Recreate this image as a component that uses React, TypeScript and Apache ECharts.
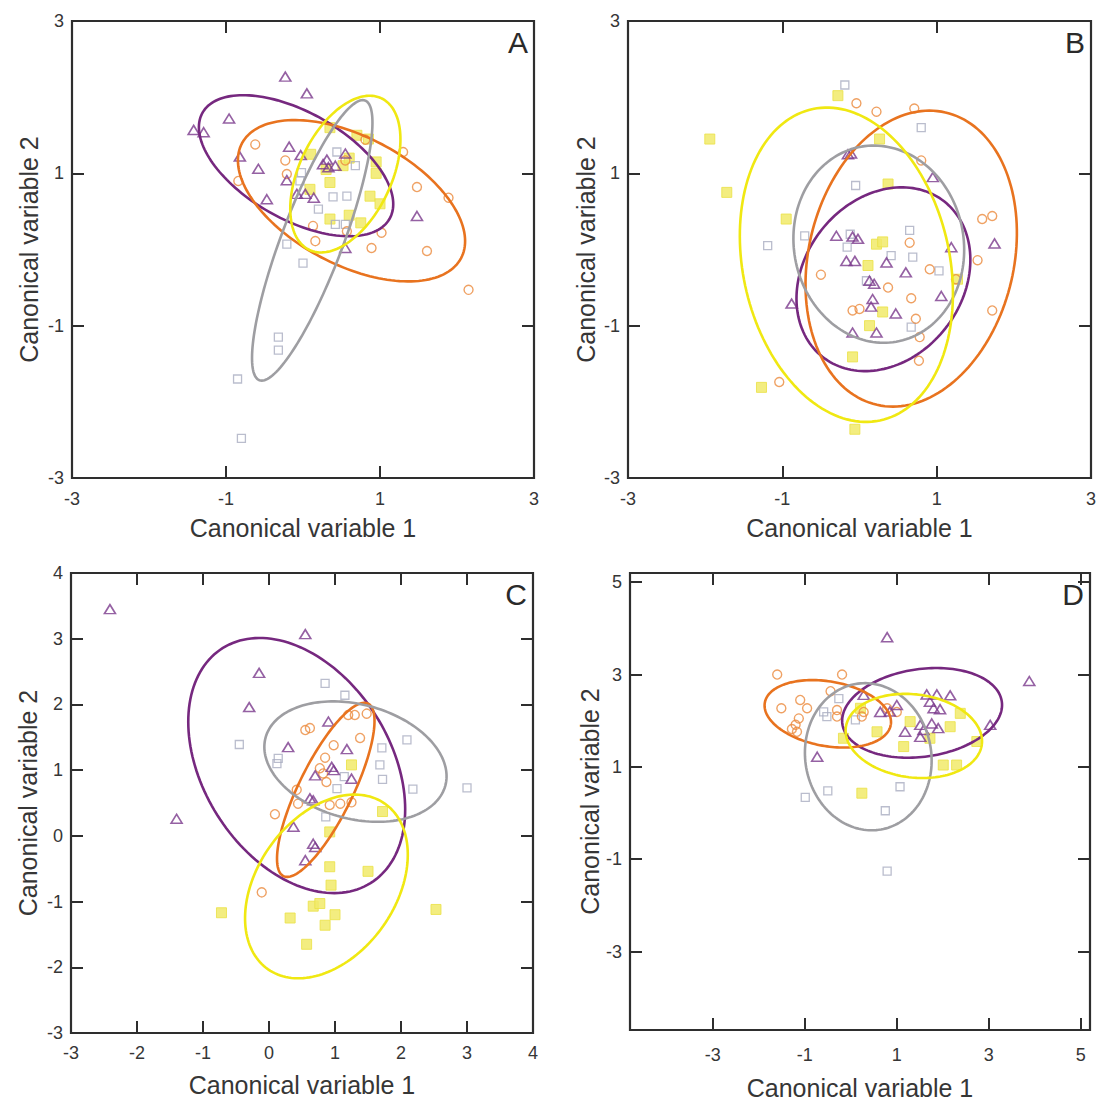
import React, { useEffect, useRef } from "react";
import * as echarts from "echarts";

type Pt = [number, number];
// centre x, centre y, semi-major, semi-minor, rotation (degrees, data space)
type Ell = [number, number, number, number, number];

// ---------- Panel A ----------
const aTriangles: Pt[] = [
  [-0.23, 2.27], [0.05, 2.05], [-0.96, 1.72], [-1.42, 1.57], [-1.29, 1.54], [-0.18, 1.35],
  [-0.82, 1.22], [-0.03, 1.24], [0.55, 1.26], [0.31, 1.18], [0.26, 1.12], [0.33, 1.08],
  [0.42, 1.1], [-0.58, 1.06], [-0.21, 0.91], [-0.08, 0.73], [0.03, 0.73], [0.14, 0.68],
  [-0.47, 0.66], [1.48, 0.44], [0.55, 0.02],
];
const aCircles: Pt[] = [
  [-0.62, 1.38], [-0.23, 1.17], [-0.84, 0.9], [-0.21, 0.99], [0.81, 1.44], [1.3, 1.28],
  [1.48, 0.82], [1.89, 0.68], [1.02, 0.22], [0.89, 0.02], [1.61, -0.02], [2.15, -0.53],
  [0.13, 0.31], [0.16, 0.11], [0.55, 1.17], [0.57, 0.24],
];
const aSquares: Pt[] = [
  [0.68, 1.1], [0.44, 1.28], [0.39, 0.69], [0.57, 0.7], [0.2, 0.53], [-0.04, 0.9],
  [-0.02, 1.01], [0.42, 0.33], [0.55, 0.33], [-0.21, 0.07], [0.0, -0.18], [-0.32, -1.15],
  [-0.32, -1.32], [-0.85, -1.7], [-0.8, -2.48],
];
const aYellow: Pt[] = [
  [0.35, 1.6], [0.7, 1.5], [0.85, 1.45], [0.3, 1.05], [0.52, 1.1], [0.6, 1.2], [0.95, 1.15],
  [0.09, 0.79], [0.35, 0.88], [0.87, 0.7], [1.0, 0.6], [0.6, 0.45], [0.35, 0.4], [0.95, 1.0],
  [0.1, 1.25], [0.75, 0.35],
];
// purple, orange, gray, yellow
const aEllipses: Ell[] = [
  [-0.09, 1.1, 1.4, 0.7, -30],
  [0.63, 0.64, 1.61, 0.84, -28],
  [0.12, 0.12, 1.96, 0.4, 69.5],
  [0.55, 0.99, 1.1, 0.6, 65],
];

// ---------- Panel B ----------
const bTriangles: Pt[] = [
  [-0.15, 1.25], [-0.11, 1.26], [0.95, 0.95], [-0.3, 0.18], [-0.09, 0.17], [-0.02, 0.14],
  [1.19, 0.03], [1.75, 0.08], [-0.17, -0.15], [-0.06, -0.15], [0.35, -0.17], [0.6, -0.3],
  [1.06, -0.61], [-0.88, -0.71], [0.17, -0.65], [0.47, -0.84], [-0.09, -1.09], [0.22, -1.09],
  [0.13, -0.41], [0.19, -0.45], [0.15, -0.75],
];
const bCircles: Pt[] = [
  [-0.04, 1.92], [0.22, 1.81], [0.71, 1.85], [0.8, 1.17], [1.59, 0.4], [1.72, 0.44],
  [0.65, 0.09], [1.53, -0.14], [0.91, -0.26], [-0.5, -0.33], [0.37, -0.5], [0.67, -0.64],
  [1.72, -0.8], [0.73, -0.91], [-0.09, -0.8], [0.0, -0.78], [0.78, -1.15], [0.77, -1.46],
  [-1.04, -1.74], [1.25, -0.39],
];
const bSquares: Pt[] = [
  [-0.19, 2.16], [0.8, 1.6], [-0.05, 0.84], [-0.71, 0.18], [-1.19, 0.05], [0.65, 0.25],
  [-0.16, 0.03], [0.41, -0.08], [0.69, -0.1], [1.03, -0.28], [0.09, -0.41], [0.67, -1.02],
  [-0.12, 0.2],
];
const bYellow: Pt[] = [
  [-0.28, 2.02], [-1.94, 1.45], [-1.72, 0.75], [-0.95, 0.4], [0.26, 1.45], [0.37, 0.86],
  [0.22, 0.07], [0.11, -0.21], [-0.09, -1.41], [-1.27, -1.81], [-0.06, -2.36], [0.3, -0.82],
  [0.13, -1.0], [1.27, -0.39], [0.3, 0.1],
];
const bEllipses: Ell[] = [
  [0.31, -0.39, 1.29, 1.03, 54],
  [0.67, -0.12, 1.97, 1.33, 77],
  [0.25, 0.07, 1.3, 1.1, 100],
  [-0.17, -0.2, 2.09, 1.34, 102],
];

// ---------- Panel C ----------
const cTriangles: Pt[] = [
  [-2.41, 3.45], [0.55, 3.07], [-0.15, 2.48], [-0.3, 1.96], [-1.4, 0.26], [0.29, 1.35],
  [1.18, 1.32], [0.9, 1.74], [0.95, 1.05], [0.98, 1.0], [0.7, 0.92], [1.25, 0.87],
  [0.62, 0.57], [0.67, 0.54], [0.37, 0.14], [0.67, -0.12], [0.7, -0.17], [0.55, -0.37],
];
const cCircles: Pt[] = [
  [0.55, 1.61], [0.62, 1.64], [1.2, 1.84], [1.3, 1.84], [1.48, 1.86], [1.38, 1.49],
  [0.98, 1.38], [0.85, 1.19], [0.77, 1.03], [0.82, 0.95], [0.87, 0.82], [0.42, 0.7],
  [0.44, 0.49], [0.92, 0.47], [1.08, 0.49], [1.25, 0.51], [0.09, 0.33], [-0.11, -0.86],
];
const cSquares: Pt[] = [
  [0.85, 2.32], [1.15, 2.14], [-0.45, 1.39], [2.09, 1.46], [1.71, 1.34], [1.68, 1.08],
  [0.14, 1.18], [0.12, 1.1], [2.18, 0.71], [3.0, 0.73], [1.72, 0.86], [1.03, 0.72],
  [0.86, 0.29], [1.14, 0.9],
];
const cYellow: Pt[] = [
  [1.25, 1.08], [1.72, 0.37], [0.92, 0.06], [1.5, -0.54], [0.92, -0.47], [-0.72, -1.17],
  [0.67, -1.07], [0.77, -1.03], [0.32, -1.25], [1.0, -1.2], [0.85, -1.36], [0.57, -1.65],
  [2.53, -1.12], [0.94, -0.75],
];
const cEllipses: Ell[] = [
  [0.42, 1.07, 2.11, 1.42, 122],
  [0.86, 0.7, 1.46, 0.41, 64],
  [1.31, 1.13, 1.41, 0.87, -15],
  [0.87, -0.77, 1.54, 1.05, 55],
];

// ---------- Panel D ----------
const dTriangles: Pt[] = [
  [0.79, 3.81], [3.88, 2.86], [-0.73, 1.22], [1.65, 2.57], [1.87, 2.57], [2.16, 2.55],
  [1.72, 2.41], [1.8, 2.27], [1.94, 2.25], [0.28, 2.56], [1.0, 2.34], [0.85, 2.2],
  [1.18, 1.76], [1.51, 1.91], [1.58, 1.8], [1.51, 1.65], [1.76, 1.94], [1.9, 1.84],
  [3.03, 1.91], [0.64, 2.19],
];
const dCircles: Pt[] = [
  [-1.6, 3.0], [-0.19, 3.0], [-1.51, 2.27], [-1.1, 2.45], [-0.95, 2.27], [-1.13, 2.05],
  [-1.2, 1.91], [-1.28, 1.82], [-1.17, 1.76], [-0.44, 2.64], [-0.3, 2.23], [-0.3, 2.09],
  [0.28, 2.19], [0.24, 2.09], [0.79, 2.27], [1.0, 2.19],
];
const dSquares: Pt[] = [
  [-0.99, 0.34], [-0.5, 0.48], [0.75, 0.05], [0.79, -1.26], [1.07, 0.57], [-0.59, 2.19],
  [-0.52, 2.09], [0.1, 2.02], [-0.26, 2.48],
];
const dYellow: Pt[] = [
  [0.24, 0.43], [2.3, 1.04], [2.16, 1.87], [1.15, 1.44], [0.21, 2.27], [0.57, 1.76],
  [2.38, 2.16], [1.29, 1.98], [1.72, 1.62], [2.74, 1.55], [-0.16, 1.62], [2.01, 1.04],
];
const dEllipses: Ell[] = [
  [1.55, 2.17, 1.75, 0.95, 8],
  [-0.5, 2.15, 1.39, 0.7, -10],
  [0.38, 1.22, 1.6, 1.37, 100],
  [1.37, 1.67, 1.49, 0.9, -7],
];

// ---------- Axes ----------
const abTicks = [-3, -1, 1, 3];
const cTicks = [-3, -2, -1, 0, 1, 2, 3, 4];
const dTicks = [-3, -1, 1, 3, 5];

const FONT = "'Liberation Sans', Arial, Helvetica, sans-serif";
const TEXT = "#363636";
const FRAME = "#2e2e2e";

const PURPLE = "#7b3a8c";
const ORANGE = "#eb8a3c";
const GRAY = "#a9adc0";
const YELLOW = "#f1ea6a";
const ellipseColors = ["#76287f", "#e8731f", "#9e9ea2", "#f0e812"];

interface Panel {
  letter: string;
  rect: { left: number; top: number; width: number; height: number };
  x: { min: number; max: number; ticks: number[] };
  y: { min: number; max: number; ticks: number[] };
  xNameGap: number;
  yNameGap: number;
  xLabelMargin: number;
  tri: Pt[];
  circ: Pt[];
  sq: Pt[];
  yel: Pt[];
  ell: Ell[];
}

const panels: Panel[] = [
  {
    letter: "A",
    rect: { left: 72, top: 21, width: 462, height: 457 },
    x: { min: -3, max: 3, ticks: abTicks },
    y: { min: -3, max: 3, ticks: abTicks },
    xNameGap: 37, yNameGap: 31, xLabelMargin: 12,
    tri: aTriangles, circ: aCircles, sq: aSquares, yel: aYellow, ell: aEllipses,
  },
  {
    letter: "B",
    rect: { left: 628, top: 21, width: 463, height: 457 },
    x: { min: -3, max: 3, ticks: abTicks },
    y: { min: -3, max: 3, ticks: abTicks },
    xNameGap: 37, yNameGap: 30, xLabelMargin: 12,
    tri: bTriangles, circ: bCircles, sq: bSquares, yel: bYellow, ell: bEllipses,
  },
  {
    letter: "C",
    rect: { left: 71, top: 573, width: 462, height: 460 },
    x: { min: -3, max: 4, ticks: cTicks },
    y: { min: -3, max: 4, ticks: cTicks },
    xNameGap: 39, yNameGap: 31, xLabelMargin: 11,
    tri: cTriangles, circ: cCircles, sq: cSquares, yel: cYellow, ell: cEllipses,
  },
  {
    letter: "D",
    rect: { left: 630, top: 573, width: 460, height: 457 },
    x: { min: -4.8, max: 5.2, ticks: dTicks },
    y: { min: -4.7, max: 5.2, ticks: dTicks },
    xNameGap: 45, yNameGap: 26, xLabelMargin: 16,
    tri: dTriangles, circ: dCircles, sq: dSquares, yel: dYellow, ell: dEllipses,
  },
];

function buildOption() {
  const grid: any[] = [];
  const xAxis: any[] = [];
  const yAxis: any[] = [];
  const series: any[] = [];
  const graphic: any[] = [];

  panels.forEach((p, gi) => {
    grid.push({
      ...p.rect,
      show: true,
      borderColor: FRAME,
      borderWidth: 2.2,
      backgroundColor: "#ffffff",
      containLabel: false,
    });

    const tick = (vals: number[]) => ({
      show: true,
      inside: true,
      length: 12,
      customValues: vals,
      lineStyle: { color: FRAME, width: 2 },
    });
    const label = (vals: number[], margin: number) => ({
      show: true,
      customValues: vals,
      margin,
      color: TEXT,
      fontFamily: FONT,
      fontSize: 18,
      showMinLabel: true,
      showMaxLabel: true,
    });
    const base = {
      gridIndex: gi,
      type: "value",
      splitLine: { show: false },
      axisLine: { show: false, onZero: false },
    };

    xAxis.push({
      ...base,
      position: "bottom",
      min: p.x.min,
      max: p.x.max,
      axisTick: tick(p.x.ticks),
      axisLabel: label(p.x.ticks, p.xLabelMargin),
      name: "Canonical variable 1",
      nameLocation: "middle",
      nameGap: p.xNameGap,
      nameTextStyle: { color: TEXT, fontFamily: FONT, fontSize: 25 },
    });
    xAxis.push({
      ...base,
      position: "top",
      min: p.x.min,
      max: p.x.max,
      axisTick: tick(p.x.ticks),
      axisLabel: { show: false },
    });
    yAxis.push({
      ...base,
      position: "left",
      min: p.y.min,
      max: p.y.max,
      axisTick: tick(p.y.ticks),
      axisLabel: label(p.y.ticks, 8),
      name: "Canonical variable 2",
      nameLocation: "middle",
      nameGap: p.yNameGap,
      nameTextStyle: { color: TEXT, fontFamily: FONT, fontSize: 25 },
    });
    yAxis.push({
      ...base,
      position: "right",
      min: p.y.min,
      max: p.y.max,
      axisTick: tick(p.y.ticks),
      axisLabel: { show: false },
    });

    const ax = { xAxisIndex: gi * 2, yAxisIndex: gi * 2 };
    series.push({
      type: "scatter", ...ax, data: p.yel, symbol: "rect", symbolSize: 10, z: 2,
      itemStyle: { color: YELLOW, opacity: 0.85, borderColor: "#ebe24a", borderWidth: 1 },
    });
    series.push({
      type: "scatter", ...ax, data: p.sq, symbol: "rect", symbolSize: 8, z: 3,
      itemStyle: { color: "rgba(255,255,255,0)", borderColor: GRAY, borderWidth: 1.3 },
    });
    series.push({
      type: "scatter", ...ax, data: p.circ, symbol: "circle", symbolSize: 9, z: 3,
      itemStyle: { color: "rgba(255,255,255,0)", borderColor: ORANGE, borderWidth: 1.4 },
    });
    series.push({
      type: "scatter", ...ax, data: p.tri, symbol: "triangle", symbolSize: [11, 9], z: 3,
      itemStyle: { color: "rgba(255,255,255,0)", borderColor: PURPLE, borderWidth: 1.6 },
    });
    series.push({
      type: "custom",
      ...ax,
      z: 4,
      clip: false,
      data: p.ell,
      encode: { x: 0, y: 1 },
      renderItem: (params: any, api: any) => {
        const cx = api.value(0);
        const cy = api.value(1);
        const a = api.value(2);
        const b = api.value(3);
        const th = (api.value(4) * Math.PI) / 180;
        const pts: number[][] = [];
        const n = 160;
        for (let i = 0; i <= n; i++) {
          const t = (i / n) * Math.PI * 2;
          const ex = a * Math.cos(t);
          const ey = b * Math.sin(t);
          pts.push(
            api.coord([
              cx + ex * Math.cos(th) - ey * Math.sin(th),
              cy + ex * Math.sin(th) + ey * Math.cos(th),
            ])
          );
        }
        return {
          type: "polyline",
          shape: { points: pts },
          style: { stroke: ellipseColors[params.dataIndex], lineWidth: 2.6, fill: null },
        };
      },
    });

    graphic.push({
      type: "text",
      right: 1100 - (p.rect.left + p.rect.width) + 6,
      top: p.rect.top + 6,
      style: { text: p.letter, fill: "#2a2a2a", font: `30px ${FONT}` },
    });
  });

  return { animation: false, backgroundColor: "#ffffff", grid, xAxis, yAxis, series, graphic };
}

export default function App() {
  const ref = useRef<HTMLDivElement>(null);
  useEffect(() => {
    if (!ref.current) return;
    const chart = echarts.init(ref.current, undefined, { renderer: "svg" });
    chart.setOption(buildOption() as any);
    return () => chart.dispose();
  }, []);
  return (
    <div
      ref={ref}
      style={{ position: "fixed", left: 0, top: 0, width: 1100, height: 1102, background: "#fff" }}
    />
  );
}
